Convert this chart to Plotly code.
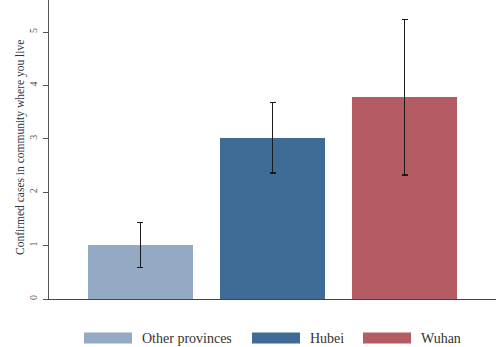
import plotly.graph_objects as go

categories = ["Other provinces", "Hubei", "Wuhan"]
means = [1.01, 3.02, 3.78]
ci_half = [0.42, 0.66, 1.46]
colors = ["#93a9c4", "#3f6b97", "#b45b63"]
y_ticks = [0, 1, 2, 3, 4, 5]
y_title = "Confirmed cases in community where you live"

font_family = "Liberation Serif, DejaVu Serif, serif"

fig = go.Figure()
for i, (cat, m, e, c) in enumerate(zip(categories, means, ci_half, colors)):
    fig.add_trace(go.Bar(
        x=[i], y=[m], name=cat, width=0.795, showlegend=False,
        marker=dict(color=c, line=dict(width=0)),
        error_y=dict(type="data", array=[e], color="#1a1a1a", thickness=1.3, width=3),
    ))

# custom legend: wide swatches like the original
W, H = 502, 347
ml, mr, mt, mb = 49, 6, 0, 48
pw, ph = W - ml - mr, H - mt - mb
def px_x(x):
    return (x - ml) / pw
def px_y(y):
    return (H - mb - y) / ph
legend_swatch_x = [84, 252, 363]
sw_w, sw_h, ly = 48, 11, 338
for cat, c, sx in zip(categories, colors, legend_swatch_x):
    fig.add_shape(type="rect", xref="paper", yref="paper",
                  x0=px_x(sx), x1=px_x(sx + sw_w),
                  y0=px_y(ly + sw_h / 2), y1=px_y(ly - sw_h / 2),
                  fillcolor=c, line=dict(width=0))
    fig.add_annotation(xref="paper", yref="paper", x=px_x(sx + sw_w + 8), y=px_y(ly),
                       text=cat, showarrow=False, xanchor="left", yanchor="middle",
                       font=dict(size=14, family=font_family, color="#333333"))

# y-axis title as rotated annotation
fig.add_annotation(xref="paper", yref="paper", x=px_x(20), y=px_y(148),
                   text=y_title, textangle=-90, showarrow=False,
                   xanchor="center", yanchor="middle",
                   font=dict(size=11.5, family=font_family, color="#333333"))

fig.update_layout(
    width=W, height=H,
    margin=dict(l=ml, r=mr, t=mt, b=mb),
    paper_bgcolor="white", plot_bgcolor="white",
    font=dict(family=font_family, size=11, color="#333333"),
    showlegend=False,
    bargap=0,
)
fig.update_xaxes(range=[-0.693, 2.693], showticklabels=False, showgrid=False,
                 zeroline=False, showline=True, linecolor="#444444", linewidth=1,
                 ticks="", automargin=False)
fig.update_yaxes(range=[0, 5.6], tickvals=y_ticks, ticktext=[str(t) for t in y_ticks],
                 tickangle=-90, ticks="outside", ticklen=5, tickcolor="#555555",
                 ticklabelstandoff=2, automargin=False,
                 showgrid=False, zeroline=False, showline=True, linecolor="#555555",
                 linewidth=1, tickfont=dict(size=10, color="#555555"))

fig.write_html("out.html", config={"displayModeBar": False},
               post_script="document.body.style.margin='0';document.body.style.overflow='hidden';")
